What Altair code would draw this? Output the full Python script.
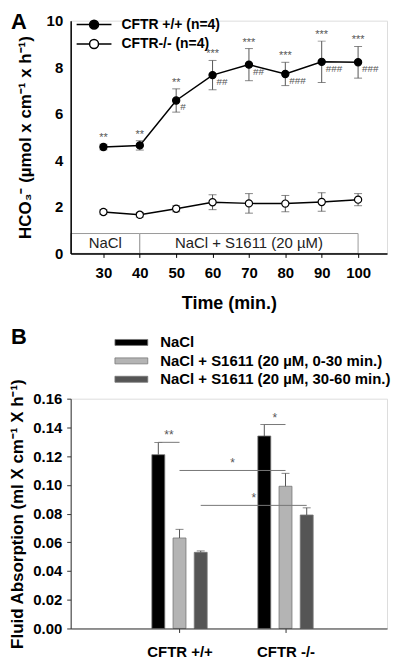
import altair as alt
import pandas as pd

# ---------------- Panel A data ----------------
times = [30, 40, 50, 60, 70, 80, 90, 100]
wt_mean = [4.57, 4.64, 6.57, 7.66, 8.11, 7.71, 8.23, 8.21]
wt_err = [0.12, 0.20, 0.50, 0.63, 0.69, 0.50, 0.89, 0.68]
ko_mean = [1.78, 1.66, 1.92, 2.20, 2.15, 2.14, 2.21, 2.31]
ko_err = [0.10, 0.10, 0.13, 0.32, 0.42, 0.35, 0.40, 0.26]
wt_stars = ["**", "**", "**", "***", "***", "***", "***", "***"]
wt_hashes = ["", "", "#", "##", "##", "###", "###", "###"]
series_names = ["CFTR +/+ (n=4)", "CFTR-/- (n=4)"]
phase_labels = ["NaCl", "NaCl + S1611 (20 µM)"]
phase_start = [21, 40]
phase_end = [40, 100]
y_ticks_a = [0, 2, 4, 6, 8, 10]

# ---------------- Panel B data ----------------
groups = ["CFTR +/+", "CFTR -/-"]
treatments = ["NaCl", "NaCl + S1611 (20 µM, 0-30 min.)", "NaCl + S1611 (20 µM, 30-60 min.)"]
wt_fluid = [0.121, 0.063, 0.053]
wt_fluid_err = [0.0085, 0.006, 0.001]
ko_fluid = [0.134, 0.099, 0.079]
ko_fluid_err = [0.008, 0.009, 0.005]
sig_group_a = ["CFTR +/+", "CFTR -/-", "CFTR +/+", "CFTR +/+"]
sig_treat_a = [0, 0, 1, 2]
sig_group_b = ["CFTR +/+", "CFTR -/-", "CFTR -/-", "CFTR -/-"]
sig_treat_b = [1, 1, 1, 2]
sig_level = [0.1296, 0.142, 0.110, 0.0857]
sig_label = ["**", "*", "*", "*"]
y_ticks_b = [0.0, 0.02, 0.04, 0.06, 0.08, 0.10, 0.12, 0.14, 0.16]

FONT = "Liberation Sans"
WA, HA = 318, 234
WB, HB = 318, 231

# ---------------- Panel A ----------------
rows = []
for name, means, errs in [(series_names[0], wt_mean, wt_err), (series_names[1], ko_mean, ko_err)]:
    for i, t in enumerate(times):
        rows.append({
            "series": name, "time": t, "mean": means[i],
            "lo": means[i] - errs[i], "hi": means[i] + errs[i],
            "star": wt_stars[i] if name == series_names[0] else "",
            "hash": wt_hashes[i] if name == series_names[0] else "",
        })
dfA = pd.DataFrame(rows)
box_df = pd.DataFrame({"time": phase_start, "time_end": phase_end, "label": phase_labels})
box_df["mid"] = (box_df["time"] + box_df["time_end"]) / 2

xsc_a = alt.Scale(domain=[21, 21 + WA / 3.657], nice=False, zero=False)
xax_a = alt.Axis(values=times, title="Time (min.)", grid=False, tickSize=4, tickColor="black",
                 labelFontSize=15, labelFontWeight="bold", labelPadding=8, labelColor="black",
                 titleFontSize=18, titleFontWeight="bold", titlePadding=14, titleColor="black",
                 domainColor="black", domainWidth=1.5, zindex=1)
ysc_a = alt.Scale(domain=[0, 10], nice=False)
yax_a = alt.Axis(values=y_ticks_a, title="HCO₃⁻ (µmol x cm⁻¹ x h⁻¹)", grid=False, ticks=False,
                 labelFontSize=15, labelFontWeight="bold", labelPadding=8, labelColor="black",
                 titleFontSize=17, titleFontWeight="bold", titlePadding=12, titleColor="black",
                 domainColor="black", domainWidth=1.5, zindex=1)

def XA(f):
    return alt.X(f, scale=xsc_a, axis=xax_a)

def YA(f):
    return alt.Y(f, scale=ysc_a, axis=yax_a)

baseA = alt.Chart(dfA)

box = alt.Chart(box_df).mark_rect(fill="white", stroke="#9a9a9a", strokeWidth=1).encode(
    x=XA("time:Q"), x2="time_end:Q", y=alt.value(HA), y2=alt.value(HA - 20))
box_text = alt.Chart(box_df).mark_text(fontSize=15, color="#222", font=FONT).encode(
    x=XA("mid:Q"), y=alt.value(HA - 10), text="label:N")
lines = baseA.mark_line(color="black", strokeWidth=1.5).encode(
    x=XA("time:Q"), y=YA("mean:Q"), detail="series:N")
err_rule = baseA.mark_rule(color="#555", strokeWidth=1).encode(
    x=XA("time:Q"), y=YA("lo:Q"), y2="hi:Q")
cap_hi = baseA.mark_tick(orient="horizontal", size=8, thickness=1, color="#555").encode(
    x=XA("time:Q"), y=YA("hi:Q"))
cap_lo = baseA.mark_tick(orient="horizontal", size=8, thickness=1, color="#555").encode(
    x=XA("time:Q"), y=YA("lo:Q"))
# legend symbol: line with a circle (drawn larger than its layout size)
legend_sym_a = "M-3.5,0H-0.9M0.9,0H3.5M-0.9,0A0.9,0.9 0 1,0 0.9,0A0.9,0.9 0 1,0 -0.9,0Z"
points = baseA.mark_point(filled=True, shape="circle", size=52, stroke="black", strokeWidth=1.2,
                          opacity=1).encode(
    x=XA("time:Q"), y=YA("mean:Q"),
    fill=alt.Fill("series:N", scale=alt.Scale(domain=series_names, range=["black", "white"]),
                  legend=alt.Legend(title=None, orient="none", legendX=16.5, legendY=-3,
                                    symbolType=legend_sym_a, symbolSize=100,
                                    symbolStrokeColor="black", symbolStrokeWidth=1.5,
                                    labelFontSize=14, labelFontWeight="bold", labelColor="black",
                                    labelFont=FONT, labelOffset=20.5, rowPadding=3.5)))
stars = baseA.mark_text(baseline="bottom", dy=-1, fontSize=11, color="#555", font=FONT).encode(
    x=XA("time:Q"), y=YA("hi:Q"), text="star:N")
hashes = baseA.mark_text(align="left", baseline="middle", dx=4, dy=7, fontSize=10, color="#555",
                         font=FONT).encode(x=XA("time:Q"), y=YA("mean:Q"), text="hash:N")
label_a = alt.Chart(pd.DataFrame({"t": ["A"]})).mark_text(
    fontSize=22, fontWeight="bold", align="left", baseline="top", font=FONT, color="black").encode(
    x=alt.value(-60), y=alt.value(-9), text="t:N")

panelA = alt.layer(box, box_text, lines, err_rule, cap_hi, cap_lo, points, stars, hashes,
                   label_a).properties(width=WA, height=HA)

# ---------------- Panel B ----------------
n_t = len(treatments)
def slot(g, t):
    return groups.index(g) * (n_t + 2) + t

rowsB = []
for g, vals, errs in [(groups[0], wt_fluid, wt_fluid_err), (groups[1], ko_fluid, ko_fluid_err)]:
    for ti, tr in enumerate(treatments):
        rowsB.append({"group": g, "treatment": tr, "slot": slot(g, ti),
                      "value": vals[ti], "hi": vals[ti] + errs[ti]})
dfB = pd.DataFrame(rowsB)
sig_df = pd.DataFrame({
    "xa": [slot(g, t) for g, t in zip(sig_group_a, sig_treat_a)],
    "xb": [slot(g, t) for g, t in zip(sig_group_b, sig_treat_b)],
    "level": sig_level, "label": sig_label})
sig_df["xm"] = (sig_df["xa"] + sig_df["xb"]) / 2

tick_slots = [slot(g, 1) for g in groups]
label_expr = " : ".join([f"datum.value == {s} ? '{g}'" for s, g in zip(tick_slots, groups)]) + " : ''"
xsc_b = alt.Scale(domain=[-3.9, -3.9 + WB / 22.0], nice=False, zero=False)
xax_b = alt.Axis(values=tick_slots, labelExpr=label_expr, title=None, grid=False, tickSize=4,
                 tickColor="#333", labelFontSize=15, labelFontWeight="bold", labelPadding=12,
                 labelColor="black", domainColor="#333", domainWidth=1, zindex=1)
ysc_b = alt.Scale(domain=[0, 0.16], nice=False)
yax_b = alt.Axis(values=y_ticks_b, format=".2f", title="Fluid Absorption (ml X cm⁻¹ X h⁻¹)",
                 grid=False, tickSize=4, tickColor="#333", labelFontSize=15, labelFontWeight="bold",
                 labelPadding=5, labelColor="black", titleFontSize=17, titleFontWeight="bold",
                 titlePadding=6, titleColor="black", domainColor="#333", domainWidth=1, zindex=1)

def XB(f):
    return alt.X(f, scale=xsc_b, axis=xax_b)

def YB(f):
    return alt.Y(f, scale=ysc_b, axis=yax_b)

baseB = alt.Chart(dfB)
legend_sym_b = "M-3.3,-0.6H3.3V0.6H-3.3Z"
bars = baseB.mark_bar(width=13, stroke="#777", strokeWidth=0.8).encode(
    x=XB("slot:Q"), y=YB("value:Q"),
    fill=alt.Fill("treatment:N",
                  scale=alt.Scale(domain=treatments, range=["#000000", "#b4b4b4", "#555555"]),
                  legend=alt.Legend(title=None, orient="none", legendX=53.5, legendY=-64,
                                    symbolType=legend_sym_b, symbolSize=100,
                                    symbolStrokeColor="#777", symbolStrokeWidth=0.8,
                                    labelFontSize=15, labelFontWeight="bold", labelColor="black",
                                    labelFont=FONT, labelOffset=21.5, rowPadding=2.5,
                                    labelLimit=400)))
err_b = baseB.mark_rule(color="#555", strokeWidth=1).encode(x=XB("slot:Q"), y=YB("value:Q"), y2="hi:Q")
cap_b = baseB.mark_tick(orient="horizontal", size=8, thickness=1, color="#555").encode(
    x=XB("slot:Q"), y=YB("hi:Q"))
sig_lines = alt.Chart(sig_df).mark_rule(color="#777", strokeWidth=1).encode(
    x=XB("xa:Q"), x2="xb:Q", y=YB("level:Q"))
sig_text = alt.Chart(sig_df).mark_text(baseline="bottom", dy=0, fontSize=12, color="#555",
                                       font=FONT).encode(x=XB("xm:Q"), y=YB("level:Q"), text="label:N")
label_b = alt.Chart(pd.DataFrame({"t": ["B"]})).mark_text(
    fontSize=22, fontWeight="bold", align="left", baseline="top", font=FONT, color="black").encode(
    x=alt.value(-60), y=alt.value(-72), text="t:N")

panelB = alt.layer(bars, err_b, cap_b, sig_lines, sig_text, label_b).properties(width=WB, height=HB)

chart = alt.vconcat(panelA, panelB, spacing=12).resolve_scale(fill="independent").properties(
    padding=0
).configure_view(stroke=None).configure(font=FONT)

chart.save("out.html", embed_options={"renderer": "svg", "actions": False})
